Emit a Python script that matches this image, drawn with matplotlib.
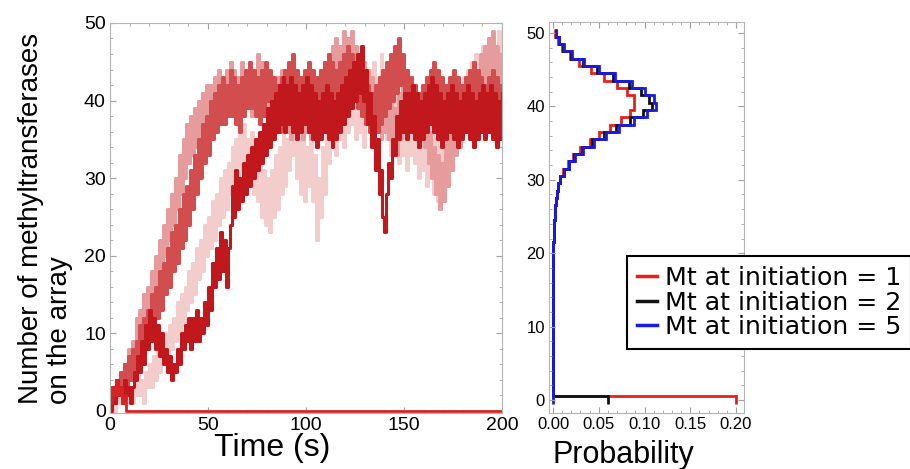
import numpy as np
import matplotlib
matplotlib.use("Agg")
import matplotlib.pyplot as plt
from matplotlib.lines import Line2D

plt.rcParams["font.family"] = ["Liberation Sans", "DejaVu Sans"]

# ---- left panel: stochastic traces, one value per second (t = 0..200 s)
time_s = np.arange(201)

light_trace = [
    0, 2, 0, 1, 3, 1, 2, 4, 1, 2, 3,
    1, 4, 2, 5, 2, 4, 1, 5, 3, 6,
    3, 7, 4, 8, 5, 9, 6, 10, 7, 11,
    8, 12, 9, 14, 10, 15, 11, 16, 13, 18,
    14, 19, 15, 21, 17, 22, 18, 24, 20, 25,
    21, 27, 22, 28, 24, 30, 25, 31, 26, 32,
    28, 34, 29, 35, 30, 36, 31, 37, 32, 35,
    30, 36, 28, 34, 27, 33, 25, 31, 24, 30,
    23, 31, 25, 33, 26, 34, 28, 36, 29, 35,
    31, 38, 33, 39, 30, 37, 28, 35, 27, 34,
    29, 36, 27, 33, 22, 30, 25, 34, 28, 37,
    32, 40, 34, 41, 33, 39, 35, 42, 34, 41,
    36, 43, 37, 44, 35, 42, 36, 43, 34, 41,
    37, 44, 38, 45, 36, 43, 38, 46, 37, 44,
    35, 42, 33, 40, 34, 41, 32, 39, 33, 40,
    31, 38, 33, 40, 32, 39, 30, 37, 31, 38,
    29, 36, 31, 38, 28, 35, 27, 34, 29, 36,
    30, 37, 32, 39, 33, 40, 35, 42, 36, 43,
    37, 44, 38, 45, 39, 46, 38, 45, 40, 47,
    39, 46, 41, 48, 40, 47, 42, 49, 41, 46,
]
pink_trace = [
    0, 2, 1, 4, 2, 5, 3, 6, 4, 8, 5,
    9, 7, 12, 8, 13, 10, 15, 11, 16, 13,
    18, 14, 20, 16, 22, 18, 24, 20, 26, 22,
    28, 24, 30, 26, 33, 28, 35, 30, 37, 32,
    38, 33, 39, 34, 40, 35, 41, 36, 42, 37,
    42, 37, 43, 38, 44, 39, 43, 38, 44, 39,
    45, 40, 44, 38, 43, 39, 45, 40, 44, 39,
    43, 38, 44, 40, 46, 41, 45, 39, 44, 38,
    43, 37, 42, 36, 43, 38, 44, 37, 42, 36,
    41, 35, 42, 37, 43, 36, 41, 35, 42, 36,
    41, 35, 40, 36, 42, 37, 44, 38, 45, 39,
    46, 40, 47, 41, 48, 42, 47, 41, 49, 43,
    48, 42, 49, 43, 47, 41, 46, 40, 45, 39,
    44, 38, 43, 37, 42, 36, 41, 35, 42, 36,
    41, 35, 40, 34, 39, 33, 41, 35, 43, 37,
    44, 38, 43, 37, 42, 36, 41, 35, 40, 34,
    38, 32, 36, 30, 34, 28, 33, 26, 32, 27,
    35, 29, 37, 31, 39, 33, 40, 34, 42, 36,
    43, 37, 44, 38, 45, 39, 44, 38, 46, 40,
    47, 41, 48, 42, 49, 43, 47, 41, 46, 40,
]
mid_trace = [
    0, 3, 1, 4, 2, 5, 2, 6, 3, 7, 4,
    8, 5, 9, 6, 11, 7, 12, 8, 13, 10,
    15, 11, 16, 12, 18, 13, 19, 15, 21, 16,
    23, 18, 24, 19, 26, 21, 28, 22, 29, 24,
    31, 26, 33, 28, 35, 30, 37, 32, 38, 33,
    40, 35, 41, 36, 42, 37, 43, 37, 42, 38,
    44, 38, 43, 37, 42, 36, 43, 38, 44, 39,
    45, 39, 44, 38, 43, 37, 44, 38, 45, 40,
    44, 38, 43, 37, 42, 36, 43, 37, 44, 38,
    45, 39, 46, 40, 44, 38, 43, 37, 44, 38,
    45, 39, 44, 38, 43, 37, 44, 38, 45, 39,
    46, 40, 45, 39, 44, 38, 45, 39, 46, 40,
    47, 41, 46, 40, 45, 39, 44, 38, 43, 37,
    42, 36, 41, 35, 42, 36, 43, 37, 44, 38,
    45, 39, 46, 40, 47, 41, 48, 42, 46, 40,
    44, 38, 43, 37, 42, 36, 41, 35, 42, 36,
    43, 37, 44, 38, 45, 39, 44, 38, 43, 37,
    42, 36, 43, 37, 44, 38, 43, 37, 42, 36,
    43, 37, 44, 38, 45, 39, 44, 38, 43, 37,
    42, 36, 43, 37, 44, 38, 43, 37, 42, 36,
]
dark_trace = [
    0, 3, 1, 4, 2, 3, 1, 4, 2, 3, 1,
    3, 5, 4, 7, 5, 9, 6, 11, 8, 13,
    9, 12, 8, 11, 7, 10, 6, 8, 5, 7,
    4, 6, 5, 8, 6, 10, 8, 11, 9, 12,
    8, 12, 9, 13, 9, 12, 10, 14, 11, 16,
    13, 19, 16, 21, 17, 23, 18, 22, 16, 21,
    24, 29, 25, 31, 26, 30, 27, 32, 28, 33,
    29, 34, 30, 35, 31, 36, 32, 37, 33, 39,
    34, 40, 35, 41, 36, 42, 37, 43, 36, 42,
    37, 43, 36, 42, 35, 41, 36, 42, 37, 43,
    36, 42, 35, 41, 34, 40, 35, 41, 36, 42,
    35, 41, 34, 40, 35, 41, 36, 42, 37, 43,
    38, 44, 39, 45, 40, 46, 41, 47, 40, 44,
    37, 41, 34, 38, 31, 35, 28, 31, 25, 23,
    28, 32, 30, 35, 33, 38, 35, 40, 36, 41,
    35, 41, 36, 42, 35, 41, 34, 40, 35, 41,
    36, 42, 37, 43, 36, 42, 35, 41, 34, 40,
    35, 41, 36, 42, 35, 41, 34, 40, 35, 41,
    36, 42, 35, 41, 34, 40, 35, 41, 36, 42,
    35, 41, 36, 42, 35, 41, 34, 40, 35, 41,
]
# trajectory that loses all methyltransferases early on
extinct_time = [0, 1, 2, 3, 4, 5, 6, 7, 8, 200]
extinct_trace = [1, 3, 2, 4, 2, 3, 1, 2, 0, 0]

trace_colors = ["#f3cccc", "#e69c9c", "#d24e4e", "#c0181c"]

# ---- right panel: stationary distributions, n = 0..50
n_values = np.arange(51)
tail = [0.0] * 16 + [0.0002, 0.0003, 0.0003, 0.0004, 0.0004]  # n = 0..20
tail_low = [0.0005, 0.0007, 0.001, 0.0013, 0.0017, 0.0022, 0.003, 0.004, 0.0055, 0.008]  # n = 21..30
prob_mt1 = [0.200] + tail[1:] + tail_low + [
    0.011, 0.016, 0.022, 0.030, 0.040, 0.050, 0.062, 0.074, 0.084, 0.089,
    0.088, 0.081, 0.070, 0.056, 0.041, 0.028, 0.018, 0.010, 0.005, 0.002]
prob_mt2 = [0.060] + tail[1:] + tail_low + [
    0.012, 0.017, 0.023, 0.032, 0.043, 0.056, 0.069, 0.084, 0.098, 0.108,
    0.105, 0.096, 0.083, 0.066, 0.048, 0.033, 0.020, 0.011, 0.006, 0.003]
prob_mt5 = [0.0] + tail[1:] + tail_low + [
    0.012, 0.017, 0.024, 0.033, 0.045, 0.058, 0.072, 0.088, 0.103, 0.113,
    0.110, 0.100, 0.086, 0.068, 0.050, 0.034, 0.021, 0.012, 0.006, 0.003]
dist_labels = ["Mt at initiation = 1", "Mt at initiation = 2", "Mt at initiation = 5"]
dist_colors = ["#e8201c", "#111111", "#1a1ae6"]

fig = plt.figure(figsize=(9.10, 4.69), dpi=100)
ax1 = fig.add_axes([0.1209, 0.1194, 0.4308, 0.8316])
ax2 = fig.add_axes([0.6033, 0.1194, 0.2143, 0.8337])

# left panel
for trace, color in zip([light_trace, pink_trace, mid_trace, dark_trace], trace_colors):
    ax1.plot(time_s, trace, drawstyle="steps-post", color=color, lw=2.2)
ax1.plot(extinct_time, extinct_trace, drawstyle="steps-post", color="#d42424", lw=2.0)

ax1.set_xlim(0, 200)
ax1.set_ylim(-0.3, 50)
ax1.set_xticks([0, 50, 100, 150, 200])
ax1.set_yticks([0, 10, 20, 30, 40, 50])
ax1.set_xlabel("Time (s)", fontsize=23)
ax1.xaxis.set_label_coords(0.413, -0.052)
ax1.set_ylabel("Number of methyltransferases\non the array", fontsize=20,
               multialignment="left", linespacing=1.15)
ax1.yaxis.set_label_coords(-0.094, 0.5)

# right panel
edges = np.arange(-0.5, 51.5, 1.0)
for probs, color in zip([prob_mt1, prob_mt2, prob_mt5], dist_colors):
    ax2.stairs(probs, edges, orientation="horizontal", baseline=None,
               color=color, lw=2.0)
ax2.set_xlim(-0.0044, 0.2087)
ax2.set_ylim(-1.77, 51.5)
ax2.set_xticks([0.0, 0.05, 0.10, 0.15, 0.20])
ax2.set_xticklabels(["0.00", "0.05", "0.10", "0.15", "0.20"])
ax2.set_yticks([0, 10, 20, 30, 40, 50])
ax2.set_xlabel("Probability", fontsize=22)
ax2.xaxis.set_label_coords(0.379, -0.068)

for ax, size in [(ax1, 14), (ax2, 12)]:
    for side in ax.spines.values():
        side.set_color("#b4b4b4")
        side.set_linewidth(0.8)
    ax.minorticks_on()
    ax.tick_params(which="both", direction="in", color="#a0a0a0",
                   top=True, right=True, labelsize=size, pad=3)
    ax.tick_params(which="major", length=4)
    ax.tick_params(which="minor", length=2)

handles = [Line2D([], [], color=c, lw=2.5) for c in dist_colors]
fig.legend(handles, dist_labels, loc="upper left",
           bbox_to_anchor=(627 / 910, 1 - 256 / 469),
           prop={"family": "DejaVu Sans", "size": 18.2},
           frameon=True, fancybox=False, edgecolor="black", framealpha=1,
           handlelength=0.8, handletextpad=0.3, labelspacing=0.02,
           borderpad=0.4, borderaxespad=0)
fig.legends[0].get_frame().set_linewidth(1.5)

plt.savefig("out.png", dpi=100)
